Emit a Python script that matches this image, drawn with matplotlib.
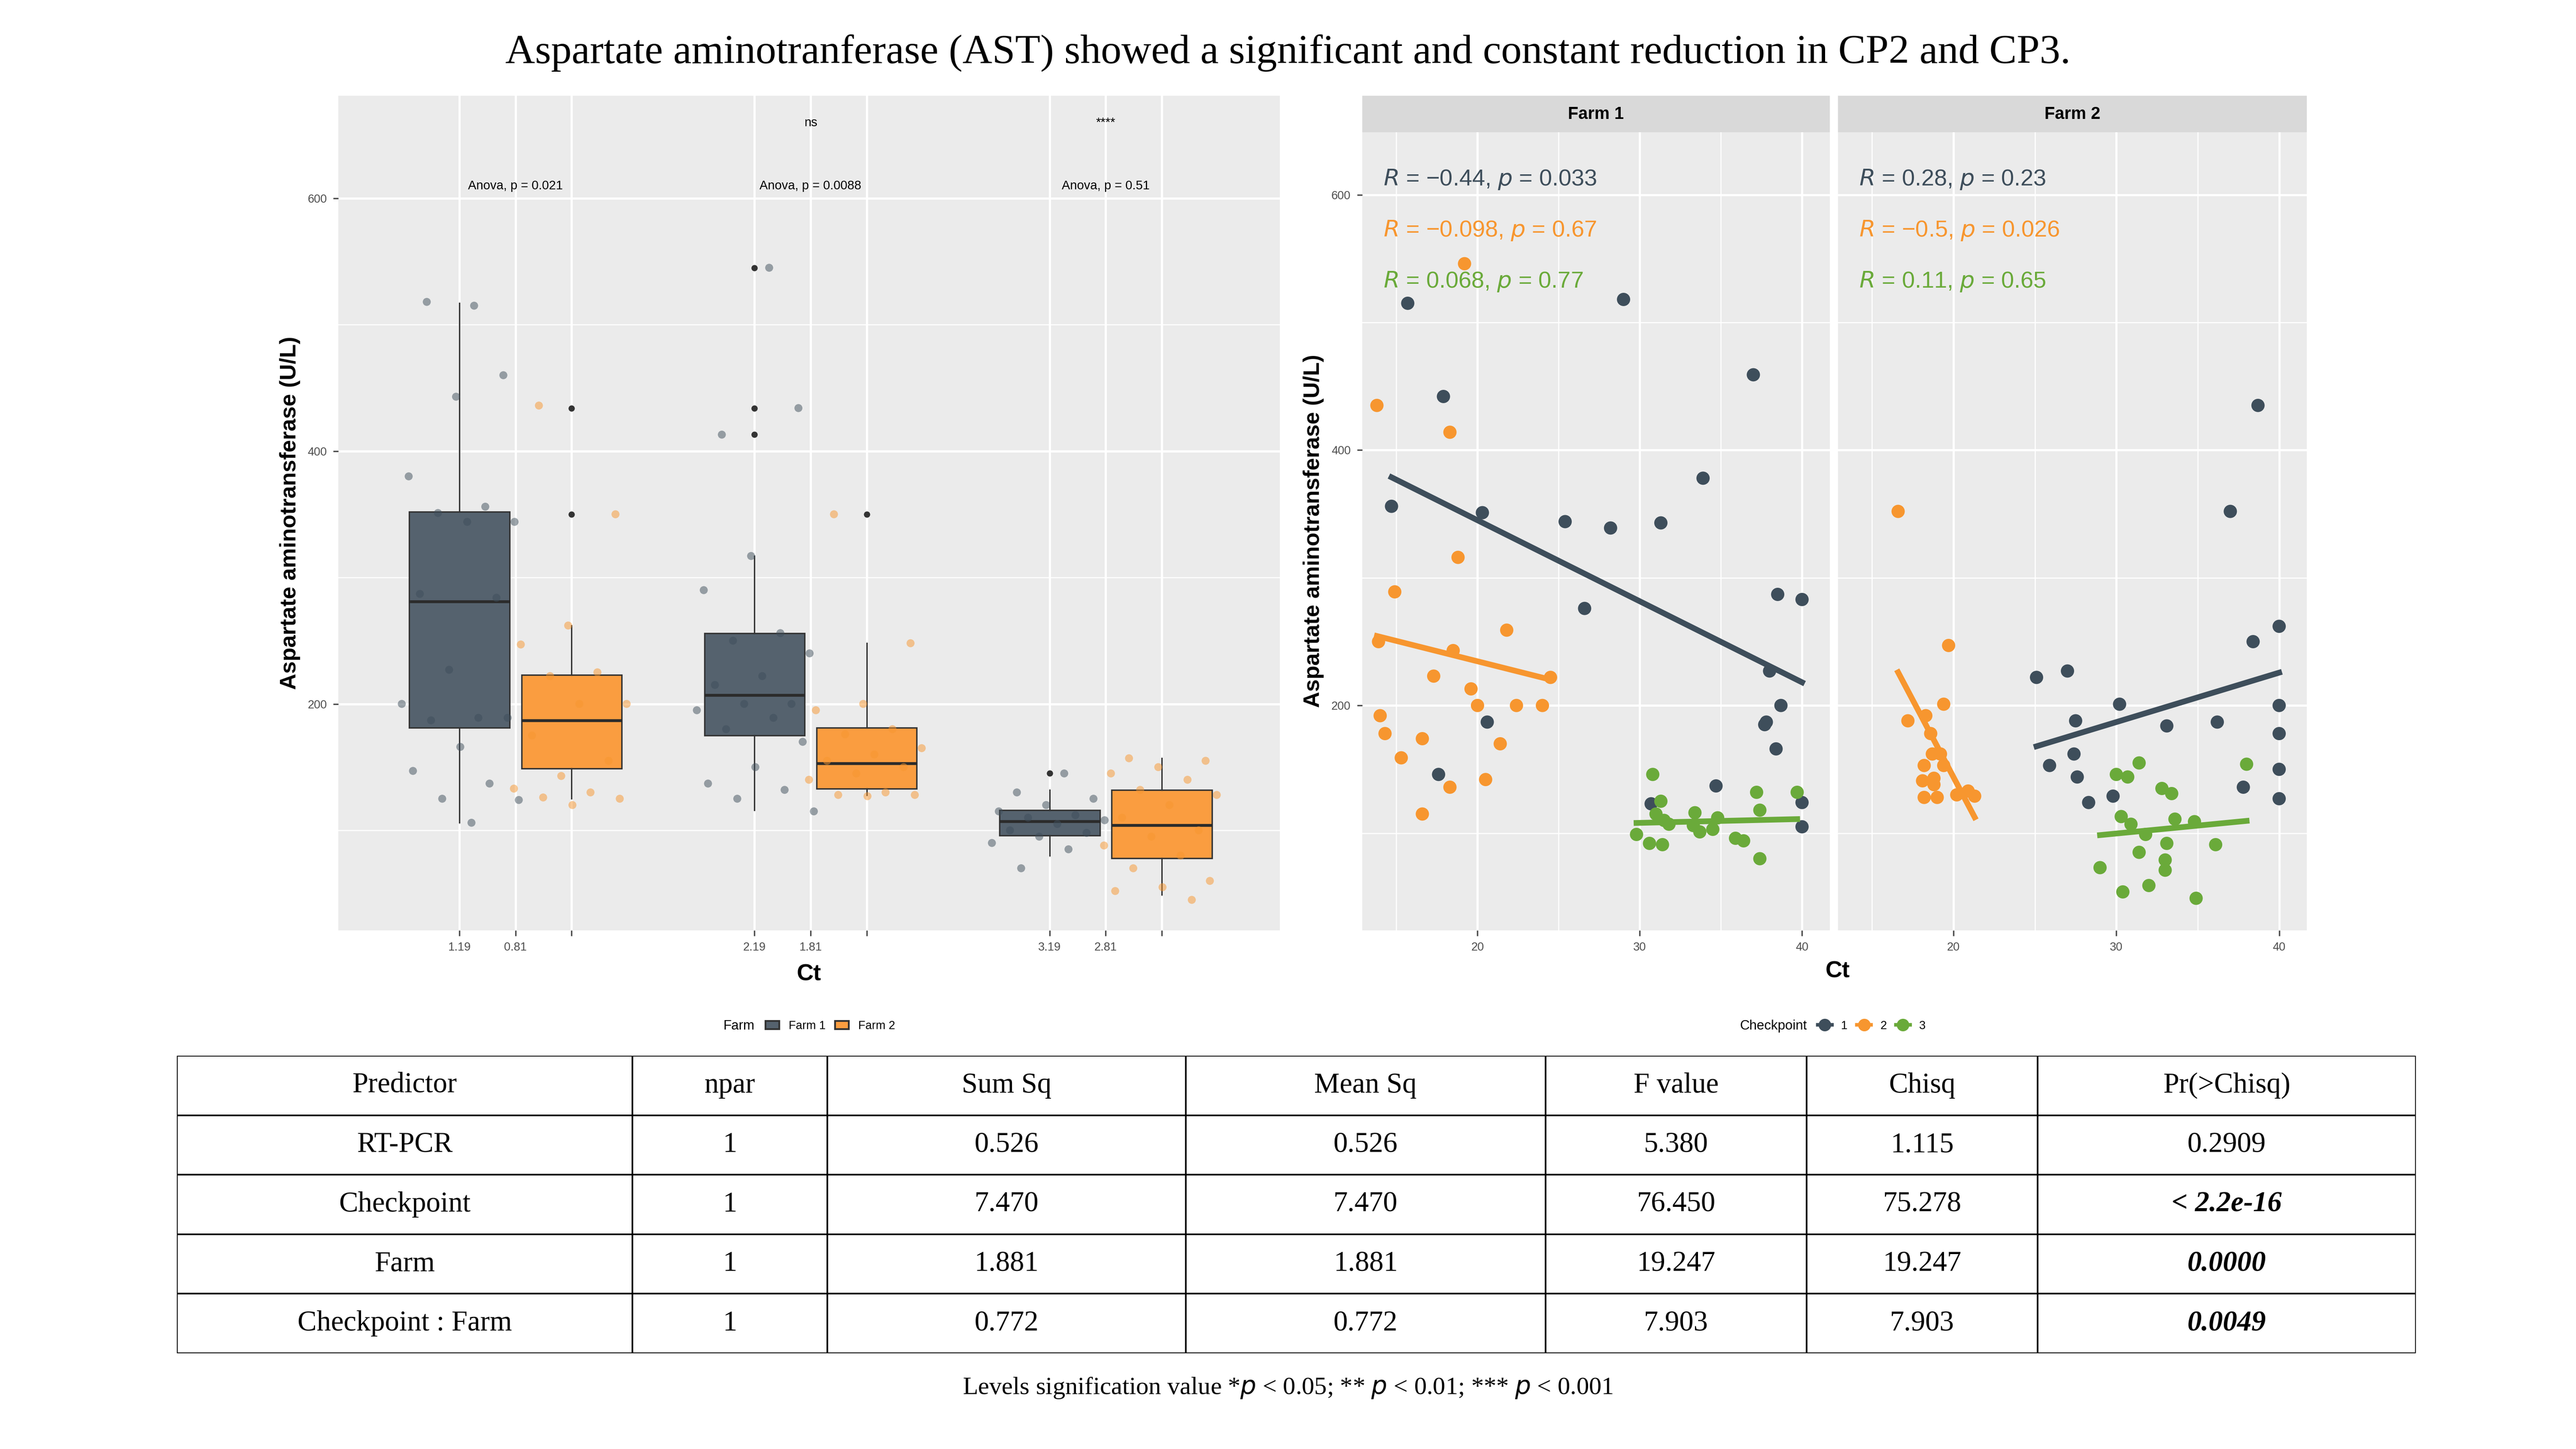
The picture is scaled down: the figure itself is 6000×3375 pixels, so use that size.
import matplotlib.pyplot as plt
import numpy as np
from matplotlib.patches import Patch
from matplotlib.lines import Line2D

plt.rcParams["font.family"] = ["Liberation Sans", "DejaVu Sans"]

DARK = "#3e4e5b"
ORANGE = "#f7962f"
GREEN = "#6aaa3a"
BOX1 = "#55626e"
BOX2 = "#fa9d40"

# ---- boxplot data (left panel) ----
checkpoints = [1, 2, 3]
f1_q1 = [181, 175, 96]
f1_med = [281, 207, 107]
f1_q3 = [352, 256, 116]
f1_lo = [106, 116, 80]
f1_hi = [517, 317, 132]
f1_out = [[], [545, 434, 413], [145]]
f2_q1 = [149, 133, 78]
f2_med = [187, 153, 104]
f2_q3 = [223, 181, 132]
f2_lo = [125, 128, 49]
f2_hi = [262, 248, 157]
f2_out = [[434, 350], [350], []]

f1_pts = [
    [515, 518, 460, 443, 380, 356, 351, 344, 344, 287, 284, 227, 200, 189, 187, 189, 166, 147, 137, 125, 124, 106],
    [545, 413, 434, 317, 290, 256, 250, 240, 222, 215, 200, 200, 195, 189, 180, 170, 150, 137, 132, 125, 115],
    [145, 130, 125, 120, 115, 112, 110, 108, 105, 100, 98, 95, 90, 85, 70],
]
f2_pts = [
    [436, 350, 262, 247, 225, 222, 200, 200, 175, 155, 143, 133, 130, 126, 125, 120],
    [350, 248, 200, 195, 180, 176, 165, 160, 155, 150, 145, 140, 130, 128, 128, 127],
    [157, 155, 150, 145, 140, 132, 128, 120, 110, 100, 95, 88, 80, 70, 60, 55, 52, 45],
]
anova_labels = ["Anova, p = 0.021", "Anova, p = 0.0088", "Anova, p = 0.51"]
sig_labels = ["", "ns", "****"]

# ---- scatter data (right panels): (Ct, AST) ----
scatter = {
    "Farm 1": {
        1: ([15.7, 29.0, 37.0, 17.9, 33.9, 14.7, 20.3, 25.4, 28.2, 31.3, 26.6, 38.5, 40.0, 38.0, 38.7, 37.8, 37.7, 20.6, 38.4, 17.6, 34.7, 40.0, 40.0, 30.7],
            [515, 518, 459, 442, 378, 356, 351, 344, 339, 343, 276, 287, 283, 227, 200, 187, 185, 187, 166, 146, 137, 124, 105, 123]),
        2: ([13.8, 18.3, 18.8, 14.9, 21.8, 13.9, 18.5, 24.5, 17.3, 19.6, 20.0, 22.4, 24.0, 14.0, 14.3, 16.6, 21.4, 15.3, 20.5, 18.3, 16.6, 19.2],
            [435, 414, 316, 289, 259, 250, 243, 222, 223, 213, 200, 200, 200, 192, 178, 174, 170, 159, 142, 136, 115, 546]),
        3: ([30.8, 31.3, 29.8, 30.6, 31.4, 31.0, 31.5, 33.4, 33.3, 33.7, 34.5, 34.8, 35.9, 36.4, 37.2, 37.4, 37.4, 39.7, 31.8],
            [146, 125, 99, 92, 91, 115, 110, 116, 106, 101, 103, 112, 96, 94, 132, 118, 80, 132, 107]),
    },
    "Farm 2": {
        1: ([25.1, 27.0, 27.5, 30.2, 25.9, 27.4, 27.6, 28.3, 29.8, 33.1, 36.2, 37.0, 38.7, 38.4, 40.0, 40.0, 40.0, 40.0, 40.0, 37.8],
            [222, 227, 188, 201, 153, 162, 144, 124, 129, 184, 187, 352, 435, 250, 262, 200, 178, 150, 127, 136]),
        2: ([16.6, 19.7, 19.4, 17.2, 18.3, 18.6, 18.7, 19.2, 18.2, 19.4, 18.1, 18.8, 18.8, 18.2, 19.0, 20.2, 20.9, 21.3],
            [352, 247, 201, 188, 192, 178, 162, 162, 153, 153, 141, 143, 138, 128, 128, 130, 133, 129]),
        3: ([31.4, 30.0, 30.7, 32.8, 33.4, 38.0, 30.3, 30.9, 31.8, 33.6, 34.8, 33.1, 31.4, 36.1, 33.0, 33.0, 29.0, 30.4, 32.0, 34.9],
            [155, 146, 144, 135, 131, 154, 113, 107, 99, 111, 109, 92, 85, 91, 79, 71, 73, 54, 59, 49]),
    },
}
cor_labels = {
    "Farm 1": ["$R$ = \u22120.44, $p$ = 0.033", "$R$ = \u22120.098, $p$ = 0.67", "$R$ = 0.068, $p$ = 0.77"],
    "Farm 2": ["$R$ = 0.28, $p$ = 0.23", "$R$ = \u22120.5, $p$ = 0.026", "$R$ = 0.11, $p$ = 0.65"],
}
cp_colors = {1: DARK, 2: ORANGE, 3: GREEN}

# ---- table ----
tbl_header = ["Predictor", "npar", "Sum Sq", "Mean Sq", "F value", "Chisq", "Pr(>Chisq)"]
tbl_rows = [
    ["RT-PCR", "1", "0.526", "0.526", "5.380", "1.115", "0.2909"],
    ["Checkpoint", "1", "7.470", "7.470", "76.450", "75.278", "< 2.2e-16"],
    ["Farm", "1", "1.881", "1.881", "19.247", "19.247", "0.0000"],
    ["Checkpoint : Farm", "1", "0.772", "0.772", "7.903", "7.903", "0.0049"],
]

W, H = 1560, 877
fig = plt.figure(figsize=(20, 11.25), dpi=300)


def rect(x0, y0, x1, y1):
    return [x0 / W, 1 - y1 / H, (x1 - x0) / W, (y1 - y0) / H]


def style(ax):
    ax.set_facecolor("#ebebeb")
    for s in ax.spines.values():
        s.set_visible(False)
    ax.grid(True, color="white", lw=1.2)
    ax.set_axisbelow(True)
    ax.tick_params(labelsize=6.5, colors="#4d4d4d", length=3)


fig.text(0.5, 1 - 32 / H, "Aspartate aminotranferase (AST) showed a significant and constant reduction in CP2 and CP3.",
         ha="center", va="center", fontsize=23, family="Liberation Serif")

# ---- left boxplot ----
ax = fig.add_axes(rect(205, 58, 775, 563))
style(ax)
ax.set_xlim(0.40, 3.59)
ax.set_ylim(21, 681)
ax.set_yticks([200, 400, 600])
ax.set_yticks([100, 300, 500], minor=True)
ax.grid(True, which="minor", color="white", lw=0.6)
ax.tick_params(which="minor", length=0)
ax.set_xticks(checkpoints)
off = 0.19
golden = 0.618034
for farm, q1, med, q3, lo, hi, out, pts, fc, pc, sgn in [
    (1, f1_q1, f1_med, f1_q3, f1_lo, f1_hi, f1_out, f1_pts, BOX1, DARK, -1),
    (2, f2_q1, f2_med, f2_q3, f2_lo, f2_hi, f2_out, f2_pts, BOX2, ORANGE, 1),
]:
    stats = [dict(q1=q1[i], med=med[i], q3=q3[i], whislo=lo[i], whishi=hi[i], fliers=out[i]) for i in range(3)]
    pos = [c + sgn * off for c in checkpoints]
    ax.bxp(stats, positions=pos, widths=0.34, patch_artist=True, showcaps=False,
           boxprops=dict(facecolor=fc, edgecolor="#333333", lw=0.8),
           medianprops=dict(color="#2b2b2b", lw=1.6),
           whiskerprops=dict(color="#333333", lw=0.8),
           flierprops=dict(marker="o", markerfacecolor="#333333", markeredgecolor="none", markersize=3.5),
           zorder=2)
    for i, c in enumerate(checkpoints):
        n = len(pts[i])
        jit = (((np.arange(n) + farm) * golden) % 1 - 0.5) * 0.42
        ax.scatter(c + sgn * off + jit, pts[i], s=20, color=pc, alpha=0.5, edgecolors="none", zorder=3)
for i, c in enumerate(checkpoints):
    ax.text(c, 605, anova_labels[i], ha="center", va="bottom", fontsize=7)
    ax.text(c, 655, sig_labels[i], ha="center", va="bottom", fontsize=7)
ax.set_xlabel("Ct", fontsize=13, fontweight="bold", labelpad=6)
ax.set_ylabel("Aspartate aminotransferase (U/L)", fontsize=12.5, fontweight="bold")

fig.legend(handles=[Patch(facecolor=BOX1, edgecolor="#333"), Patch(facecolor=BOX2, edgecolor="#333")],
           labels=["Farm 1", "Farm 2"], title="Farm", loc="center", bbox_to_anchor=(490 / W, 1 - 621 / H),
           ncol=2, frameon=False, fontsize=6.5, title_fontsize=7.5, handlelength=1.2, columnspacing=0.8,
           alignment="left")
fig.legends[-1]._legend_box.align = "left"

# ---- right facets ----
panels = [("Farm 1", 825, 1108), ("Farm 2", 1113, 1397)]
for k, (farm, x0, x1) in enumerate(panels):
    ax = fig.add_axes(rect(x0, 80, x1, 563))
    style(ax)
    ax.set_xlim(12.9, 41.7)
    ax.set_ylim(24, 649)
    ax.set_xticks([20, 30, 40])
    ax.set_xticks([15, 25, 35], minor=True)
    ax.set_yticks([200, 400, 600])
    ax.set_yticks([100, 300, 500], minor=True)
    ax.grid(True, which="minor", color="white", lw=0.6)
    ax.tick_params(which="minor", length=0)
    if k:
        ax.tick_params(axis="y", left=False, labelleft=False)
    else:
        ax.set_ylabel("Aspartate aminotransferase (U/L)", fontsize=12.5, fontweight="bold")
    for cp in [1, 2, 3]:
        xs, ys = scatter[farm][cp]
        xs, ys = np.array(xs), np.array(ys)
        ax.scatter(xs, ys, s=55, color=cp_colors[cp], edgecolors="none", zorder=3)
        a, b = np.polyfit(xs, ys, 1)
        xx = np.array([xs.min(), xs.max()])
        ax.plot(xx, a * xx + b, color=cp_colors[cp], lw=3.2, zorder=4)
        ax.text(14.2, 600 - (cp - 1) * 40 + 3, cor_labels[farm][cp - 1], color=cp_colors[cp],
                fontsize=13, va="bottom", ha="left")
    sax = fig.add_axes(rect(x0, 58, x1, 80))
    sax.set_facecolor("#d9d9d9")
    sax.set_xticks([]); sax.set_yticks([])
    for s in sax.spines.values():
        s.set_visible(False)
    sax.text(0.5, 0.5, farm, ha="center", va="center", fontsize=9.5, fontweight="bold", transform=sax.transAxes)
fig.text(1113 / W, 1 - 588 / H, "Ct", ha="center", va="center", fontsize=13, fontweight="bold")

fig.legend(handles=[Line2D([], [], marker="o", ls="-", color=cp_colors[c], markersize=6, lw=2) for c in [1, 2, 3]],
           labels=["1", "2", "3"], title="Checkpoint", loc="center", bbox_to_anchor=(1110 / W, 1 - 621 / H),
           ncol=3, frameon=False, fontsize=6.5, title_fontsize=7.5, handlelength=1.2, columnspacing=0.8)
for lg in fig.legends:
    lg._legend_box.sep = 0
    lg._legend_box._children = lg._legend_box._children
    lg.get_title().set_ha("left")
# put legend titles inline
from matplotlib.offsetbox import HPacker
for lg in fig.legends:
    vp = lg._legend_box
    vp.__class__ = HPacker
    vp.align = "center"
    vp.sep = 6

# ---- table ----
tax = fig.add_axes(rect(107, 639, 1463, 819))
tax.set_xlim(107, 1463)
tax.set_ylim(819, 639)
tax.axis("off")
cols = [107, 383, 501, 718, 936, 1094, 1234, 1463]
rows_y = [639 + 36 * i for i in range(6)]
for y in rows_y:
    tax.plot([cols[0], cols[-1]], [y, y], color="black", lw=0.9)
for x in cols:
    tax.plot([x, x], [rows_y[0], rows_y[-1]], color="black", lw=0.9)
for r, row in enumerate([tbl_header] + tbl_rows):
    for c, txt in enumerate(row):
        bold = (c == 6 and r >= 2)
        tax.text((cols[c] + cols[c + 1]) / 2, rows_y[r] + 18, txt, ha="center", va="center",
                 fontsize=16, family="Liberation Serif",
                 fontweight="bold" if bold else "normal", fontstyle="italic" if bold else "normal")
fig.text(0.5, 1 - 840 / H, "Levels signification value *$p$ < 0.05; ** $p$ < 0.01; *** $p$ < 0.001",
         ha="center", va="center", fontsize=14, family="Liberation Serif")
plt.rcParams["mathtext.fontset"] = "custom"

fig.savefig("out.png", dpi=300)
